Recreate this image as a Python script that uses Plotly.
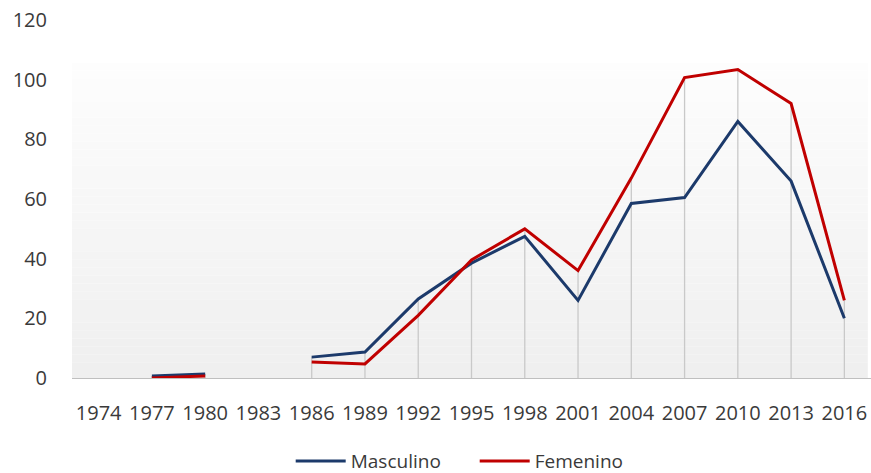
import plotly.graph_objects as go

years = ["1974", "1977", "1980", "1983", "1986", "1989", "1992", "1995",
         "1998", "2001", "2004", "2007", "2010", "2013", "2016"]
masculino = [None, 0.7, 1.3, None, 7, 8.7, 26.5, 38.5, 47.5, 26, 58.5, 60.5, 86, 66, 20]
femenino = [None, 0.0, 0.7, None, 5.4, 4.7, 21, 39.6, 50, 36, 67, 100.7, 103.4, 92, 26]
y_ticks = [0, 20, 40, 60, 80, 100, 120]

fig = go.Figure()

# gradient panel background (white at top to light gray at bottom)
n_bands = 40
top_val = 105.7
for i in range(n_bands):
    y0 = top_val * i / n_bands
    y1 = top_val * (i + 1) / n_bands
    t = i / (n_bands - 1)
    c = int(round(239 + (253 - 239) * t))
    fig.add_shape(type="rect", xref="x domain", yref="y", x0=0, x1=0.996,
                  y0=y0, y1=y1, fillcolor=f"rgb({c},{c},{c})",
                  line=dict(width=0), layer="below")

# drop lines from the highest series value to the axis
dx, dy = [], []
for yr, m, f in zip(years, masculino, femenino):
    vals = [v for v in (m, f) if v is not None]
    if vals:
        dx += [yr, yr, None]
        dy += [0, max(vals), None]
fig.add_trace(go.Scatter(x=dx, y=dy, mode="lines", showlegend=False,
                         line=dict(color="#c9c9c9", width=1.3), hoverinfo="skip"))

fig.add_trace(go.Scatter(x=years, y=masculino, mode="lines", name="Masculino",
                         line=dict(color="#1c3a6b", width=3), connectgaps=False))
fig.add_trace(go.Scatter(x=years, y=femenino, mode="lines", name="Femenino",
                         line=dict(color="#c00000", width=3), connectgaps=False))

fig.update_layout(
    width=871, height=473,
    margin=dict(l=72, r=0, t=20, b=95, autoexpand=False),
    paper_bgcolor="white", plot_bgcolor="white",
    font=dict(family="Open Sans", size=20, color="#3a3a3a"),
    legend=dict(orientation="h", x=0.504, xanchor="center", y=-0.232, yanchor="middle",
                font=dict(size=19, color="#3a3a3a"), bgcolor="rgba(0,0,0,0)",
                entrywidth=119, entrywidthmode="pixels", itemwidth=50),
    showlegend=True,
)
fig.update_xaxes(type="category", categoryorder="array", categoryarray=years,
                 range=[-0.5, 14.5], showgrid=False, showline=True,
                 linecolor="#bfbfbf", linewidth=1.3, ticks="", zeroline=False,
                 ticklabelstandoff=17, tickangle=0, automargin=False)
fig.update_yaxes(range=[0, 120], tickvals=y_ticks, showgrid=False, zeroline=False,
                 showline=False, ticks="", ticklabelstandoff=24, automargin=False)

fig.write_html("out.html", config={"displayModeBar": False},
               post_script="document.body.style.margin='0';document.body.style.overflow='hidden';")
